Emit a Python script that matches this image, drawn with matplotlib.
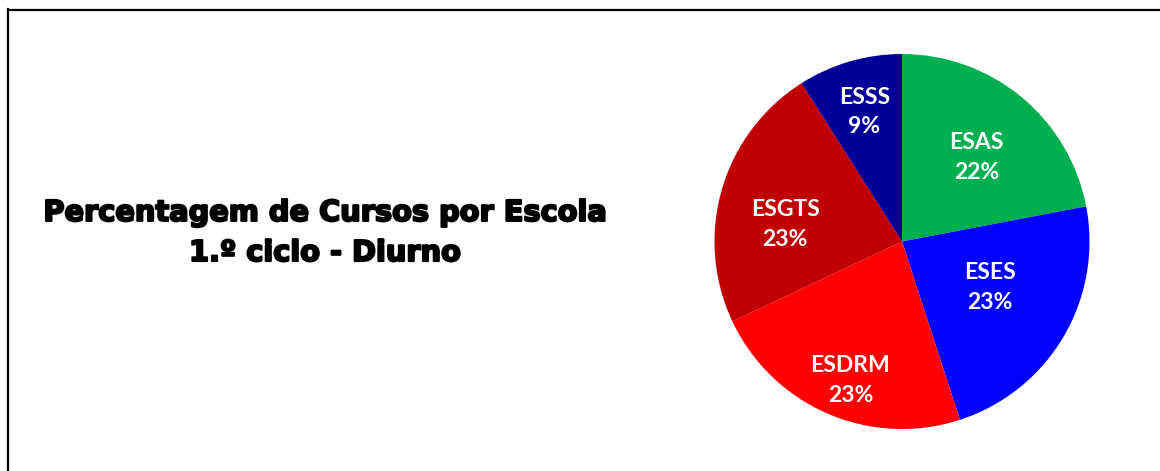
import numpy as np
import matplotlib
matplotlib.use("Agg")
import matplotlib.pyplot as plt
import matplotlib.patheffects as pe
from matplotlib.lines import Line2D

# courses per school, 1st cycle (daytime)
schools = ["ESAS", "ESES", "ESDRM", "ESGTS", "ESSS"]
shares = [22, 23, 23, 23, 9]
colors = ["#00B050", "#0000FF", "#FF0000", "#C00000", "#000099"]

title_lines = ["Percentagem de Cursos por Escola", "1.º ciclo - Diurno"]

# where each label sits inside its wedge (fraction of radius, angle nudge in degrees)
label_r = [0.60, 0.53, 0.79, 0.63, 0.72]
label_nudge = [-2, 3, 3, 8, 0]

W, H = 1160, 471
fig = plt.figure(figsize=(W / 100, H / 100), dpi=100)
fig.patch.set_facecolor("white")

# frame around the chart area (only left and top edges show)
fig.add_artist(Line2D([7.5 / W, 7.5 / W], [0, 1 - 9 / H], color="black", lw=1.6,
                      transform=fig.transFigure))
fig.add_artist(Line2D([7.5 / W, 1], [1 - 9.5 / H, 1 - 9.5 / H], color="black", lw=1.6,
                      transform=fig.transFigure))

cx, cy, R = 902, 241.5, 187.5
ax = fig.add_axes([(cx - R) / W, (H - cy - R) / H, 2 * R / W, 2 * R / H])
wedges, _ = ax.pie(shares, colors=colors, startangle=90, counterclock=False,
                   radius=1.0, wedgeprops=dict(linewidth=0))
ax.set_xlim(-1, 1)
ax.set_ylim(-1, 1)
ax.set_aspect("equal")
ax.axis("off")

for w, name, val, r, nudge in zip(wedges, schools, shares, label_r, label_nudge):
    mid = np.deg2rad((w.theta1 + w.theta2) / 2 + nudge)
    ax.text(r * np.cos(mid), r * np.sin(mid), f"{name}\n{val}%",
            ha="center", va="center", color="white", fontsize=16.5,
            fontweight="bold", family=["Lato", "DejaVu Sans"], linespacing=1.5)

# heavy title: bold face thickened with a stroke of the same colour
fig.text(325 / W, 1 - 233 / H, "\n".join(title_lines), ha="center", va="center",
         fontsize=20.75, fontweight="bold", family=["DejaVu Sans"],
         linespacing=1.55,
         path_effects=[pe.withStroke(linewidth=1.5, foreground="black")])

fig.savefig("out.png", dpi=100)
